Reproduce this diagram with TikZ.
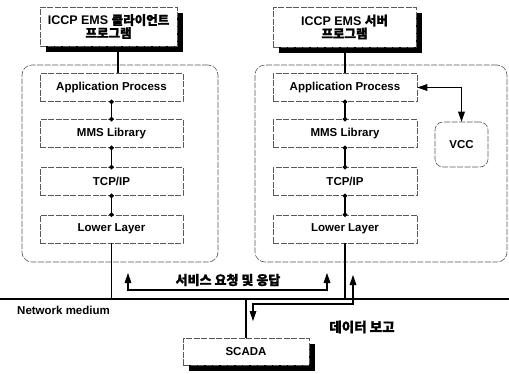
\documentclass[tikz,border=0pt]{standalone}
\usepackage{fontspec}
\setmainfont{Liberation Sans}
\newfontfamily\kr{Noto Sans CJK KR}[BoldFeatures={FakeBold=1.2}]
\usetikzlibrary{arrows.meta,shadows}
\begin{document}
\begin{tikzpicture}[x=1bp,y=-1bp,
  lbl/.style={font=\fontsize{11.5bp}{14bp}\selectfont\bfseries},
  klbl/.style={font=\fontsize{12.5bp}{14bp}\selectfont\bfseries},
  brd/.style={draw=black!65, line width=0.6bp, dash pattern=on 6bp off 1.5bp},
  layer/.style={brd, lbl, minimum height=28bp, inner sep=0pt},
  cont/.style={brd, rounded corners=10bp, minimum height=197bp, inner sep=0pt},
  sbox/.style={brd, lbl, fill=white, align=center, inner sep=0pt,
    drop shadow={shadow xshift=6bp, shadow yshift=-6bp, fill=black, opacity=1}},
  wire/.style={line width=1.3bp, black},
  dotw/.style={wire, {Circle[length=4.5bp]}-{Circle[length=4.5bp]}, shorten <=-2.2bp, shorten >=-2.2bp},
  tip/.tip={Triangle[length=10bp,width=7bp,line width=0pt]},
  arr/.style={wire, tip-tip},
  txt/.style={klbl, inner sep=0pt}
]
\useasboundingbox (0,0) rectangle (509,373);
\fill[white] (0,0) rectangle (509,373);

% containers
\node[cont, minimum width=196bp] (lcont) at (120,163.5) {};
\node[cont, minimum width=252bp] (rcont) at (381,163.5) {};

% network line
\coordinate (netL) at (0,299);
\coordinate (netR) at (509,299);
\draw[wire] (netL) -- (netR);

% layers left
\node[layer, minimum width=143bp] (lapp) at (111.5,87.5) {Application Process};
\node[layer, minimum width=143bp] (lmms) at (111.5,133.5) {MMS Library};
\node[layer, minimum width=143bp] (ltcp) at (111.5,181.5) {TCP/IP};
\node[layer, minimum width=143bp] (llow) at (111.5,229) {Lower Layer};
% layers right
\node[layer, minimum width=144bp] (rapp) at (345,87.5) {Application Process};
\node[layer, minimum width=144bp] (rmms) at (345,133.5) {MMS Library};
\node[layer, minimum width=144bp] (rtcp) at (345,181.5) {TCP/IP};
\node[layer, minimum width=144bp] (rlow) at (345,229) {Lower Layer};

% VCC
\node[brd, lbl, rounded corners=8bp, minimum width=53bp, minimum height=45bp, inner sep=0pt] (vcc) at (461.5,144.5) {VCC};

% connectors between layers
\draw[dotw] (lapp.south) -- (lmms.north);
\draw[dotw] (lmms.south) -- (ltcp.north);
\draw[dotw] (ltcp.south) -- (llow.north);
\draw[dotw] (rapp.south) -- (rmms.north);
\draw[dotw] (rmms.south) -- (rtcp.north);
\draw[dotw] (rtcp.south) -- (rlow.north);

% lower layers to network
\draw[wire] (llow.south) -- (llow.south |- netL);
\draw[wire] (rlow.south) -- (rlow.south |- netL);

% top program boxes
\draw[wire] ([xshift=6.5bp]lapp.north) -- ++(0,-30);
\draw[wire] (rapp.north) -- ++(0,-30);
\node[sbox, minimum width=137bp, minimum height=39bp, klbl] (ltop) at (108.5,26.5) {ICCP EMS {\kr 클라이언트}\\[-1bp]{\kr 프로그램}};
\node[sbox, minimum width=143bp, minimum height=40bp, klbl] (rtop) at (344.5,27) {ICCP EMS {\kr 서버}\\[-1bp]{\kr 프로그램}};

% App <-> VCC
\draw[arr] (rapp.east) -- (vcc.north |- rapp.east) -- (vcc.north);

% service request/response
\coordinate (s1) at (128,273);
\coordinate (s2) at (128,290);
\coordinate (s3) at (327,290);
\coordinate (s4) at (327,273);
\draw[arr] (s1) -- (s2) -- (s3) -- (s4);
\node[txt, font=\fontsize{13bp}{14bp}\selectfont\bfseries] (slbl) at (228,280) {\kr 서비스 요청 및 응답};

% SCADA
\node[sbox, minimum width=126bp, minimum height=27bp] (scada) at (246,351.5) {SCADA};
\draw[wire] (scada.north) -- (scada.north |- netL);

% data report
\coordinate (d1) at (353,275);
\coordinate (d2) at (353,304);
\coordinate (d3) at (253,304);
\coordinate (d4) at (253,321);
\draw[arr] (d1) -- (d2) -- (d3) -- (d4);
\node[txt, font=\fontsize{13.5bp}{15bp}\selectfont\bfseries] (dlbl) at (362,327) {\kr 데이터 보고};

% network label
\node[lbl, inner sep=0pt, anchor=west] (nlbl) at (17,310) {Network medium};
\end{tikzpicture}
\end{document}
